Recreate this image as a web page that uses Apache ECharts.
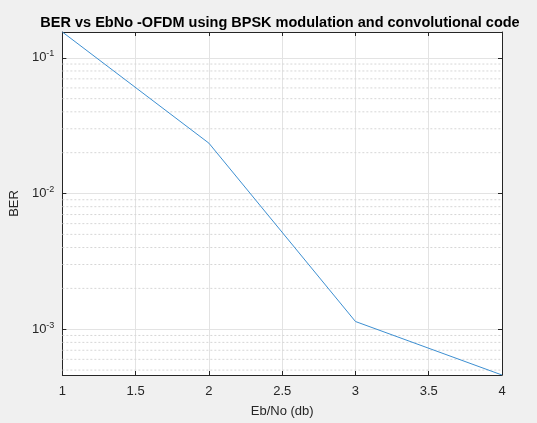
<!DOCTYPE html>
<html>
<head>
<meta charset="utf-8">
<script src="https://cdn.jsdelivr.net/npm/echarts@6/dist/echarts.min.js"></script>
<style>
  html, body { margin: 0; padding: 0; background: #f0f0f0; }
  #main { width: 537px; height: 423px; }
</style>
</head>
<body>
<div id="main"></div>
<script>
var myChart = echarts.init(document.getElementById('main'));

// data
var ebno = [1, 2, 3, 4];
var ber = [0.155, 0.0235, 0.00114, 0.00046];
var xTicks = [1, 1.5, 2, 2.5, 3, 3.5, 4];
var yMin = 0.00046, yMax = 0.155;
// dotted minor grid (2..9 x 10^k)
var minorLines = [0.0005, 0.0006, 0.0007, 0.0008, 0.0009,
    0.002, 0.003, 0.004, 0.005, 0.006, 0.007, 0.008, 0.009,
    0.02, 0.03, 0.04, 0.05, 0.06, 0.07, 0.08, 0.09];

var fontFam = 'Liberation Sans, Arial, sans-serif';

function powLabel(v) {
    var e = Math.log10(v);
    var r = Math.round(e);
    if (Math.abs(e - r) > 1e-6) return '';
    return '10{sup|' + r + '}';
}

// minor grid as one broken line series
var minorData = [];
minorLines.forEach(function (v) {
    minorData.push([1, v], [4, v], ['-', '-']);
});

var option = {
    backgroundColor: '#f0f0f0',
    animation: false,
    title: {
        text: 'BER vs EbNo -OFDM using BPSK modulation and convolutional code',
        left: 275, top: 10, textAlign: 'center',
        textStyle: { fontSize: 14.5, fontWeight: 'bold', color: '#000', fontFamily: fontFam }
    },
    grid: {
        left: 62, right: 35, top: 32, bottom: 45,
        show: true, backgroundColor: '#fff', borderWidth: 0
    },
    xAxis: [
        {
            type: 'value', min: 1, max: 4, interval: 0.5,
            position: 'bottom',
            name: 'Eb/No (db)', nameLocation: 'middle', nameGap: 30,
            nameTextStyle: { fontSize: 13, color: '#262626', fontFamily: fontFam },
            axisLine: { show: true, lineStyle: { color: '#262626', width: 1 } },
            axisTick: { show: true, inside: true, length: 4, lineStyle: { color: '#262626' } },
            axisLabel: { fontSize: 13, color: '#262626', fontFamily: fontFam, margin: 10 },
            splitLine: { show: true, lineStyle: { color: '#e3e3e3', width: 1 } }
        },
        {
            type: 'value', min: 1, max: 4, interval: 0.5,
            position: 'top',
            axisLine: { show: true, lineStyle: { color: '#262626', width: 1 } },
            axisTick: { show: true, inside: true, length: 4, lineStyle: { color: '#262626' } },
            axisLabel: { show: false },
            splitLine: { show: false }
        }
    ],
    yAxis: [
        {
            type: 'log', logBase: 10, min: yMin, max: yMax,
            position: 'left',
            name: 'BER', nameLocation: 'middle', nameGap: 34,
            nameTextStyle: { fontSize: 13, color: '#262626', fontFamily: fontFam },
            axisLine: { show: true, lineStyle: { color: '#262626', width: 1 } },
            axisTick: { show: true, inside: true, length: 4, lineStyle: { color: '#262626' } },
            axisLabel: {
                showMinLabel: false, showMaxLabel: false,
                formatter: powLabel, color: '#262626', fontFamily: fontFam, fontSize: 13, margin: 8,
                rich: {
                    sup: { fontSize: 9, color: '#262626', fontFamily: fontFam, padding: [0, 0, 8, 0] }
                }
            },
            splitLine: { show: true, lineStyle: { color: '#e3e3e3', width: 1 } }
        },
        {
            type: 'log', logBase: 10, min: yMin, max: yMax,
            position: 'right',
            axisLine: { show: true, lineStyle: { color: '#262626', width: 1 } },
            axisTick: { show: true, inside: true, length: 4, lineStyle: { color: '#262626' } },
            axisLabel: { show: false },
            splitLine: { show: false }
        }
    ],
    series: [
        {
            name: 'minor',
            type: 'line',
            xAxisIndex: 0, yAxisIndex: 0,
            data: minorData,
            connectNulls: false,
            showSymbol: false,
            silent: true,
            lineStyle: { type: [2, 2], color: '#d6d6d6', width: 1 },
            z: 1
        },
        {
            name: 'BER',
            type: 'line',
            xAxisIndex: 0, yAxisIndex: 0,
            data: ebno.map(function (x, i) { return [x, ber[i]]; }),
            showSymbol: false,
            lineStyle: { color: '#3d8fd1', width: 1 },
            itemStyle: { color: '#3d8fd1' },
            z: 5
        }
    ]
};

myChart.setOption(option);
</script>
</body>
</html>
